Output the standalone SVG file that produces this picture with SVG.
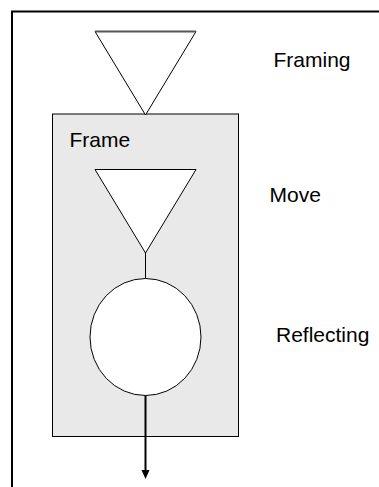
<svg xmlns="http://www.w3.org/2000/svg" width="379" height="487" viewBox="0 0 379 487">
  <style>
    .label { font-family: "Liberation Sans", Arial, sans-serif; font-size: 21px; fill: #000; }
    .shape { fill: #fff; stroke: #000; stroke-width: 1; }
    .edge { stroke: #000; fill: none; }
  </style>
  <rect width="379" height="487" fill="#fff"/>

  <!-- outer border (open on the right and bottom) -->
  <path d="M12,487 V11.5 H379" fill="none" stroke="#000" stroke-width="2"/>

  <g id="frame">
    <rect x="52.5" y="114" width="186" height="322.5" fill="#e9e9e9" stroke="#000" stroke-width="1"/>
    <text class="label" x="69.5" y="147">Frame</text>
  </g>

  <g id="framing">
    <polygon class="shape" points="95,31.5 196,31.5 145.5,115"/>
    <line x1="95" y1="31.5" x2="196" y2="31.5" stroke="#555" stroke-width="2"/>
    <text class="label" x="273.5" y="66.5">Framing</text>
  </g>

  <g id="move">
    <polygon class="shape" points="95,169.5 196,169.5 145.5,253"/>
    <text class="label" x="269.5" y="201.5">Move</text>
  </g>

  <g id="reflecting">
    <ellipse class="shape" cx="145.5" cy="337" rx="55.5" ry="58.5"/>
    <text class="label" x="276" y="341.5">Reflecting</text>
  </g>

  <g id="connectors">
    <line class="edge" x1="145.5" y1="253" x2="145.5" y2="278.5" stroke-width="1"/>
    <line class="edge" x1="145.5" y1="395.5" x2="145.5" y2="471" stroke-width="2"/>
    <path d="M141.5,470 L149.5,470 L145.5,479 Z" fill="#000"/>
  </g>
</svg>
